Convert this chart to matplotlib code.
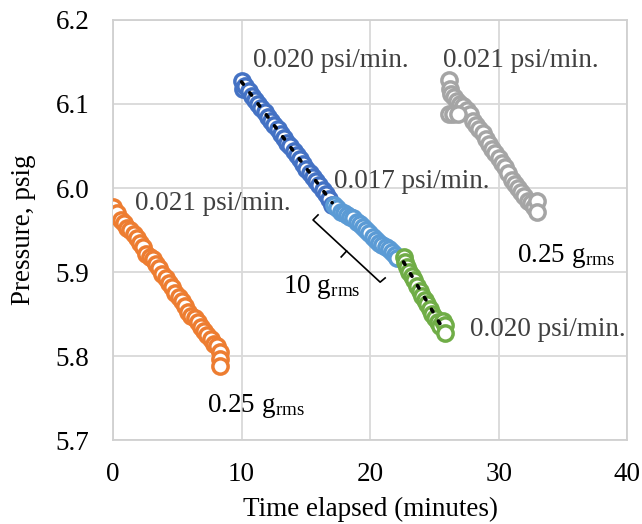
import numpy as np
import matplotlib
matplotlib.use("Agg")
import matplotlib.pyplot as plt

plt.rcParams['font.family'] = ['Liberation Serif', 'DejaVu Serif']
plt.rcParams['mathtext.fontset'] = 'custom'
plt.rcParams['mathtext.rm'] = 'Liberation Serif'
plt.rcParams['mathtext.it'] = 'Liberation Serif:italic'

# ---- data ----
orange_x = [0.0, 0.1, 0.35, 0.6, 0.85, 1.1, 1.35, 1.6, 1.85, 2.1, 2.35, 2.6, 2.85, 3.1,
            3.35, 3.6, 3.85, 4.1, 4.35, 4.6, 4.85, 5.1, 5.35, 5.6, 5.85, 6.1, 6.35, 6.6,
            6.85, 7.1, 7.35, 7.6, 7.85, 8.1, 8.3, 8.3, 8.3]
orange_y = [5.977, 5.968, 5.970, 5.962, 5.958, 5.953, 5.950, 5.945, 5.940, 5.935, 5.930,
            5.922, 5.918, 5.915, 5.910, 5.905, 5.898, 5.893, 5.887, 5.882, 5.875, 5.870,
            5.866, 5.860, 5.853, 5.848, 5.845, 5.840, 5.835, 5.830, 5.825, 5.820, 5.815,
            5.812, 5.805, 5.797, 5.788]

dblue_x = [10.0, 10.1, 10.3, 10.55, 10.8, 11.05, 11.3, 11.55, 11.8, 12.05, 12.3, 12.55,
           12.8, 13.05, 13.3, 13.55, 13.8, 14.05, 14.3, 14.55, 14.8, 15.05, 15.3, 15.55,
           15.8, 16.05, 16.3, 16.55, 16.8, 17.05]
dblue_y = [6.127, 6.118, 6.121, 6.116, 6.110, 6.105, 6.100, 6.095, 6.090, 6.085, 6.080,
           6.075, 6.070, 6.064, 6.060, 6.054, 6.050, 6.044, 6.039, 6.034, 6.028, 6.023,
           6.018, 6.013, 6.008, 6.003, 5.998, 5.993, 5.987, 5.980]

lblue_x = [17.2, 17.45, 17.7, 17.95, 18.2, 18.45, 18.7, 18.95, 19.2, 19.45, 19.7, 19.95,
           20.2, 20.45, 20.7, 20.95, 21.2, 21.45, 21.7, 21.95, 22.1]
lblue_y = [5.980, 5.976, 5.972, 5.970, 5.968, 5.966, 5.964, 5.960, 5.957, 5.954, 5.950,
           5.946, 5.942, 5.938, 5.935, 5.932, 5.930, 5.927, 5.924, 5.920, 5.917]

green_x = [22.6, 22.7, 22.85, 23.05, 23.25, 23.45, 23.65, 23.85, 24.05, 24.25, 24.45,
           24.65, 24.85, 25.05, 25.25, 25.45, 25.65, 25.8, 25.85]
green_y = [5.918, 5.912, 5.906, 5.900, 5.895, 5.890, 5.884, 5.878, 5.872, 5.867, 5.862,
           5.856, 5.850, 5.845, 5.840, 5.836, 5.842, 5.837, 5.828]

gray_x = [26.15, 26.2, 26.3, 26.5, 26.75, 27.0, 27.25, 27.5, 27.75, 28.0, 28.25, 28.5,
          28.75, 29.0, 29.25, 29.5, 29.75, 30.0, 30.25, 30.5, 30.75, 31.0, 31.25, 31.5,
          31.75, 32.0, 32.25, 32.5, 32.75, 33.0, 33.0, 26.1, 26.45, 26.8]
gray_y = [6.128, 6.118, 6.112, 6.108, 6.103, 6.100, 6.098, 6.093, 6.088, 6.080, 6.075,
          6.070, 6.065, 6.058, 6.052, 6.047, 6.042, 6.036, 6.030, 6.025, 6.018, 6.010,
          6.005, 6.000, 5.995, 5.990, 5.985, 5.982, 5.978, 5.984, 5.972, 6.088, 6.088, 6.088]

x_ticks = [0, 10, 20, 30, 40]
y_ticks = [5.7, 5.8, 5.9, 6.0, 6.1, 6.2]

C_OR, C_DB, C_LB, C_GR, C_GY = '#ED7D31', '#4472C4', '#5B9BD5', '#70AD47', '#A5A5A5'

fig = plt.figure(figsize=(6.42, 5.24), dpi=100)
ax = fig.add_axes([0.176, 0.160, 0.801, 0.802])

FS = 19.5
mk = dict(marker='o', linestyle='none', markersize=11, markeredgewidth=2.5,
          markerfacecolor='white')
ax.plot(orange_x, orange_y, color=C_OR, **mk, zorder=3)
ax.plot(dblue_x, dblue_y, color=C_DB, **mk, zorder=3)
ax.plot(lblue_x, lblue_y, color=C_LB, **mk, zorder=3)
ax.plot(green_x, green_y, color=C_GR, **mk, zorder=4)
ax.plot(gray_x, gray_y, color=C_GY, **mk, zorder=3)

# dotted trend lines
for xs, ys in [(dblue_x, dblue_y), (green_x, green_y)]:
    p = np.polyfit(xs, ys, 1)
    xx = np.array([min(xs), max(xs)])
    ax.plot(xx, np.polyval(p, xx), color='black', linestyle=(0, (0.8, 3.0)),
            linewidth=2.6, dash_capstyle='round', zorder=5)

ax.set_xlim(0, 40)
ax.set_ylim(5.7, 6.2)
ax.set_xticks(x_ticks)
ax.set_yticks(y_ticks)
ax.set_yticklabels([f"{v:.1f}" for v in y_ticks])
ax.grid(True, color='#D9D9D9', linewidth=1.3, zorder=0)
ax.set_axisbelow(True)
for s in ax.spines.values():
    s.set_color('#D0D0D0')
    s.set_linewidth(1.3)
ax.tick_params(axis='both', length=0, labelsize=FS, colors='black')
ax.tick_params(axis='x', pad=16)
ax.tick_params(axis='y', pad=17)
ax.set_xlabel('Time elapsed (minutes)', fontsize=FS, labelpad=7)
ax.set_ylabel('Pressure, psig', fontsize=FS, labelpad=14)

TC = '#404040'
ax.text(10.9, 6.144, '0.020 psi/min.', fontsize=FS, color=TC, va='baseline')
ax.text(25.7, 6.144, '0.021 psi/min.', fontsize=FS, color=TC, va='baseline')
ax.text(17.2, 6.000, '0.017 psi/min.', fontsize=FS, color=TC, va='baseline')
ax.text(1.71, 5.974, '0.021 psi/min.', fontsize=FS, color=TC, va='baseline')
ax.text(27.8, 5.824, '0.020 psi/min.', fontsize=FS, color=TC, va='baseline')
ax.text(31.4, 5.912, r'0.25 g$_{\mathrm{rms}}$', fontsize=FS, color='black', va='baseline')
ax.text(13.2, 5.875, r'10 g$_{\mathrm{rms}}$', fontsize=FS, color='black', va='baseline')
ax.text(7.3, 5.733, r'0.25 g$_{\mathrm{rms}}$', fontsize=FS, color='black', va='baseline')

# bracket
bx = [15.95, 15.56, 20.78, 21.17]
by = [5.968, 5.962, 5.888, 5.893]
ax.plot(bx, by, color='black', linewidth=1.2, zorder=6)
ax.plot([18.17, 17.75], [5.925, 5.918], color='black', linewidth=1.2, zorder=6)

fig.savefig('out.png', dpi=100)
